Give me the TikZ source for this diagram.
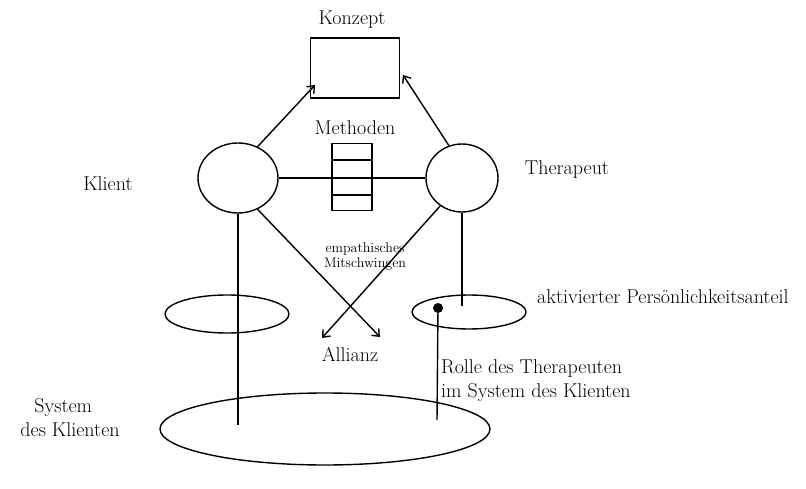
\documentclass[tikz,border=0pt]{standalone}
\usetikzlibrary{shapes.geometric,arrows.meta,calc}
\begin{document}
\begin{tikzpicture}[x=1pt,y=-1pt,
  ln/.style={line width=1.4pt,black},
  shp/.style={draw,line width=1.4pt,inner sep=0pt},
  oval/.style={shp,ellipse},
  arr/.style={ln,-{Straight Barb[length=6pt,width=10pt]}},
  lbl/.style={font=\fontsize{20}{24}\selectfont,inner sep=0pt},
  sml/.style={font=\fontsize{14}{15}\selectfont,inner sep=0pt,align=center}]
\useasboundingbox (0,0) rectangle (806,489);
% shapes
\node[shp,minimum width=89,minimum height=60] (kb) at (355,68) {};
\node[oval,minimum width=80,minimum height=70] (kl) at (238,178) {};
\node[oval,minimum width=72,minimum height=68] (th) at (462,178) {};
\node[shp,minimum width=40,minimum height=67] (mb) at (352,177) {};
\draw[ln] ([yshift=17]mb.west) -- ([yshift=17]mb.east);
\draw[ln] ([yshift=-18]mb.west) -- ([yshift=-18]mb.east);
\node[oval,minimum width=124,minimum height=38] (el) at (227,314) {};
\node[oval,minimum width=114,minimum height=34] (er) at (469,312) {};
\node[oval,minimum width=330,minimum height=72] (big) at (325,429) {};
\node[circle,fill=black,minimum size=10,inner sep=0pt] (dot) at (438,308) {};
% free ends
\coordinate (kbl) at (315,85);
\coordinate (kbr) at (403,75);
\coordinate (al) at (322,338);
\coordinate (ar) at (380,337);
\coordinate (lv) at (238,425);
\coordinate (rv) at (462,306);
\coordinate (dv) at (437,420);
% connectors
\draw[ln] (kl.east) -- (th.west);
\draw[arr] (kl.58) -- (kbl);
\draw[arr] (th.112) -- (kbr);
\draw[arr] (kl.-58) -- (ar);
\draw[arr] (th.-128) -- (al);
\draw[ln] (kl.south) -- (lv);
\draw[ln] (th.south) -- (rv);
\draw[ln] (dot) -- (dv);
% labels
\node[lbl] (tk) at (352,20) {Konzept};
\node[lbl] (tm) at (355,128) {Methoden};
\node[lbl] (tkl) at (108,184) {Klient};
\node[lbl] (tth) at (567,170) {Therapeut};
\node[sml] (tem) at (365,257) {empathisches\\Mitschwingen};
\node[lbl] (tal) at (350,355) {Allianz};
\node[lbl,anchor=west] (tap) at (537,297) {aktivierter Persönlichkeitsanteil};
\node[lbl,anchor=west,align=left] (tro) at (441,381) {Rolle des Therapeuten\\im System des Klienten};
\node[lbl,align=left] (tsy) at (70,418) {\hspace*{14pt}System\\des Klienten};
\end{tikzpicture}
\end{document}
